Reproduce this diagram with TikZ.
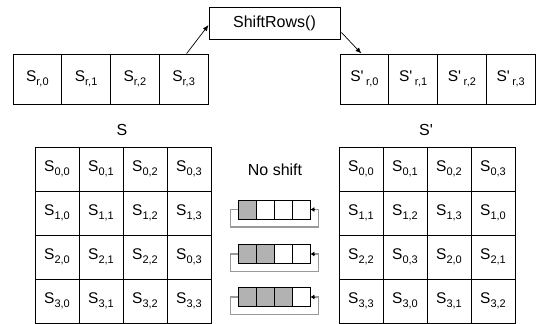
\documentclass[tikz,border=0pt]{standalone}
\usepackage{fontspec}
\newfontfamily\arialf{Liberation Sans}
\usetikzlibrary{arrows.meta,calc}
\newcommand\sbx[1]{\raisebox{-0.55ex}{\fontsize{11}{11}\selectfont #1}}
\tikzset{
  rowcell/.style={draw, line width=0.9pt, minimum width=48.75pt, minimum height=50pt, inner sep=0pt, font=\arialf\fontsize{15.5}{15.5}\selectfont},
  gridcell/.style={draw, line width=0.9pt, minimum width=44pt, minimum height=44pt, inner sep=0pt, font=\arialf\fontsize{15.5}{15.5}\selectfont},
  labeltext/.style={inner sep=0pt, font=\arialf\fontsize{16}{16}\selectfont},
  iconcell/.style={draw, line width=0.8pt, minimum width=18pt, minimum height=19pt, inner sep=0pt},
  iconloop/.style={draw=black!40, line width=1.3pt},
  conn/.style={draw, line width=0.7pt, -{Latex[length=6pt,width=5pt]}}
}
\begin{document}
\begin{tikzpicture}[x=1pt,y=-1pt]
\useasboundingbox (0,0) rectangle (536,324);
% ShiftRows box
\node[draw, line width=0.9pt, minimum width=131pt, minimum height=32pt, inner sep=0pt, labeltext] (box) at (274.5,23) {ShiftRows()};
% top rows
\foreach \c in {0,1,2,3}{
  \node[rowcell] (sr\c) at ({13+24.375+48.75*\c},79) {S\sbx{r,\c}};
  \node[rowcell] (spr\c) at ({340+24.375+48.75*\c},79) {S'\,\sbx{r,\c}};
}
\draw[conn] ($(sr3.north)+(3,0)$) -- ($(box.west)+(0,2)$);
\draw[conn] ($(box.south east)+(1,-7)$) -- ($(spr0.north)+(-3,0)$);
% labels
\node[labeltext] (lS) at (122,130) {S};
\node[labeltext] (lSp) at (426,130) {S'};
\node[labeltext] (noshift) at (275,170) {No shift};
% left grid
\foreach \r/\a/\b/\cc/\d in {0/{0,0}/{0,1}/{0,2}/{0,3}, 1/{1,0}/{1,1}/{1,2}/{1,3}, 2/{2,0}/{2,1}/{2,2}/{0,3}, 3/{3,0}/{3,1}/{3,2}/{3,3}}{
  \node[gridcell] (L\r0) at (57,{169+44*\r}) {S\sbx{\a}};
  \node[gridcell] (L\r1) at (101,{169+44*\r}) {S\sbx{\b}};
  \node[gridcell] (L\r2) at (145,{169+44*\r}) {S\sbx{\cc}};
  \node[gridcell] (L\r3) at (189,{169+44*\r}) {S\sbx{\d}};
}
% right grid
\foreach \r/\a/\b/\cc/\d in {0/{0,0}/{0,1}/{0,2}/{0,3}, 1/{1,1}/{1,2}/{1,3}/{1,0}, 2/{2,2}/{0,3}/{2,0}/{2,1}, 3/{3,3}/{3,0}/{3,1}/{3,2}}{
  \node[gridcell] (R\r0) at (361,{169+44*\r}) {S\sbx{\a}};
  \node[gridcell] (R\r1) at (405,{169+44*\r}) {S\sbx{\b}};
  \node[gridcell] (R\r2) at (449,{169+44*\r}) {S\sbx{\cc}};
  \node[gridcell] (R\r3) at (493,{169+44*\r}) {S\sbx{\d}};
}
% shift icons
\foreach \k/\yy in {1/209.5,2/254,3/297}{
  \foreach \i in {0,1,2,3}{
    \pgfmathsetmacro\fillc{\i<\k ? "black!30" : "white"}
    \node[iconcell, fill=\fillc] (ic\k\i) at ({247+18*\i},\yy) {};
  }
  \draw[iconloop] (ic\k0.west) -- ++(-7,0) -- ++(0,17.5) -| ($(ic\k3.east)+(8,0)$) -- ($(ic\k3.east)+(4,0)$);
  \draw[-{Latex[length=4pt,width=5pt]}, line width=0.8pt] ($(ic\k3.east)+(5,0)$) -- (ic\k3.east);
}
\end{tikzpicture}
\end{document}
